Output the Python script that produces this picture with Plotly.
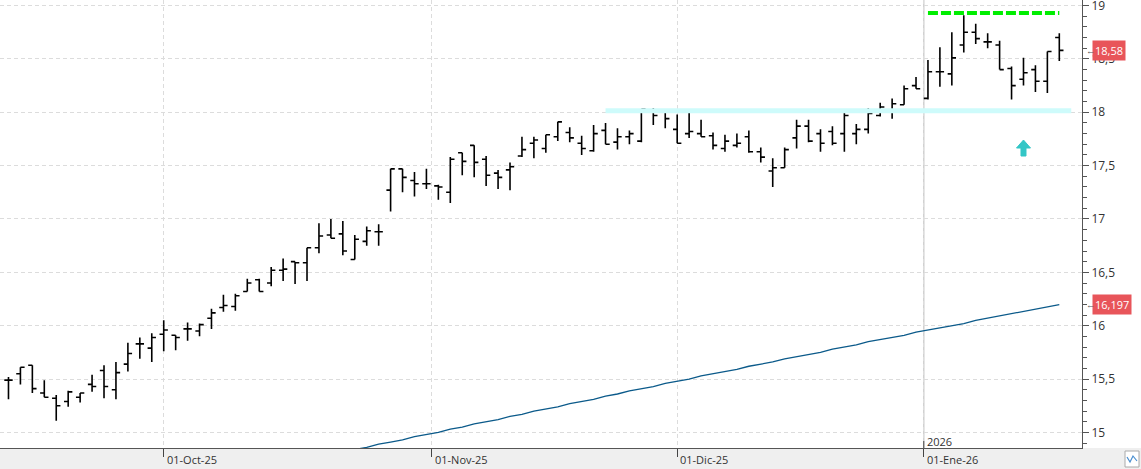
import plotly.graph_objects as go

# ---------------- data ----------------
bar_index = list(range(89))
opens = [15.49, 15.55, 15.63, 15.37, 15.32, 15.29, 15.33, 15.45, 15.58, 15.40,
         15.64, 15.83, 15.79, 15.92, 15.91, 15.97, 15.95, 16.07, 16.17, 16.18,
         16.32, 16.43, 16.40, 16.52, 16.60, 16.59, 16.73, 16.85, 16.86, 16.62,
         16.79, 16.88, 17.27, 17.47, 17.36, 17.33, 17.31, 17.25, 17.62, 17.69,
         17.56, 17.43, 17.46, 17.59, 17.71, 17.66, 17.77, 17.81, 17.71, 17.64,
         17.83, 17.72, 17.77, 17.73, 18.02, 18.01, 17.84, 17.80, 17.80, 17.78,
         17.66, 17.69, 17.77, 17.63, 17.45, 17.48, 17.76, 17.87, 17.80, 17.82,
         17.80, 17.80, 17.84, 17.97, 18.00, 18.07, 18.25, 18.13, 18.38, 18.36,
         18.63, 18.75, 18.66, 18.63, 18.41, 18.31, 18.40, 18.29, 18.70]
highs = [15.52, 15.61, 15.63, 15.49, 15.35, 15.39, 15.37, 15.54, 15.63, 15.66,
         15.84, 15.89, 15.93, 16.05, 15.91, 16.03, 16.02, 16.16, 16.29, 16.30,
         16.44, 16.44, 16.55, 16.63, 16.60, 16.73, 16.96, 17.00, 16.98, 16.85,
         16.93, 16.95, 17.47, 17.47, 17.44, 17.47, 17.32, 17.58, 17.62, 17.69,
         17.59, 17.46, 17.53, 17.77, 17.77, 17.79, 17.91, 17.86, 17.78, 17.88,
         17.90, 17.85, 17.83, 18.03, 18.04, 18.01, 17.98, 18.00, 17.93, 17.81,
         17.79, 17.80, 17.83, 17.67, 17.57, 17.67, 17.93, 17.93, 17.84, 17.87,
         18.00, 17.89, 18.04, 18.09, 18.13, 18.25, 18.33, 18.49, 18.61, 18.75,
         18.91, 18.83, 18.74, 18.67, 18.43, 18.51, 18.44, 18.57, 18.74]
lows = [15.31, 15.45, 15.37, 15.33, 15.11, 15.24, 15.28, 15.38, 15.32, 15.31,
        15.57, 15.69, 15.66, 15.76, 15.77, 15.86, 15.90, 15.97, 16.13, 16.14,
        16.32, 16.32, 16.37, 16.42, 16.39, 16.42, 16.68, 16.82, 16.66, 16.62,
        16.75, 16.75, 17.07, 17.25, 17.21, 17.28, 17.18, 17.15, 17.41, 17.39,
        17.31, 17.28, 17.27, 17.58, 17.57, 17.62, 17.73, 17.72, 17.60, 17.63,
        17.70, 17.65, 17.70, 17.72, 17.88, 17.85, 17.71, 17.76, 17.77, 17.65,
        17.63, 17.67, 17.62, 17.53, 17.30, 17.48, 17.66, 17.72, 17.63, 17.69,
        17.63, 17.70, 17.80, 17.96, 17.94, 18.07, 18.22, 18.12, 18.24, 18.25,
        18.56, 18.64, 18.60, 18.40, 18.12, 18.25, 18.19, 18.18, 18.48]
closes = [15.49, 15.61, 15.41, 15.33, 15.25, 15.38, 15.37, 15.43, 15.43, 15.56,
          15.74, 15.83, 15.89, 15.96, 15.89, 15.97, 16.01, 16.12, 16.19, 16.28,
          16.40, 16.32, 16.52, 16.53, 16.59, 16.73, 16.84, 16.82, 16.70, 16.81,
          16.89, 16.88, 17.47, 17.39, 17.33, 17.33, 17.30, 17.56, 17.54, 17.53,
          17.41, 17.39, 17.49, 17.65, 17.74, 17.79, 17.91, 17.76, 17.66, 17.80,
          17.70, 17.77, 17.80, 18.03, 17.97, 17.94, 17.71, 17.82, 17.77, 17.69,
          17.73, 17.71, 17.63, 17.58, 17.48, 17.65, 17.87, 17.73, 17.71, 17.71,
          17.97, 17.84, 17.99, 18.05, 18.08, 18.22, 18.22, 18.38, 18.38, 18.51,
          18.75, 18.69, 18.66, 18.40, 18.25, 18.37, 18.29, 18.57, 18.58]

ma_index = list(range(28, 89))
ma_values = [14.81, 14.84, 14.86, 14.89, 14.91, 14.93, 14.96, 14.98, 15.00, 15.03,
             15.05, 15.08, 15.10, 15.12, 15.15, 15.17, 15.20, 15.22, 15.24, 15.27,
             15.29, 15.31, 15.34, 15.36, 15.39, 15.41, 15.43, 15.46, 15.48, 15.50,
             15.53, 15.55, 15.57, 15.59, 15.62, 15.64, 15.66, 15.69, 15.71, 15.73,
             15.75, 15.78, 15.80, 15.82, 15.85, 15.87, 15.89, 15.91, 15.94, 15.96,
             15.98, 16.00, 16.02, 16.05, 16.07, 16.09, 16.11, 16.13, 16.15, 16.17,
             16.197]

support_level = 18.015
support_span = [50, 89]
resistance_level = 18.93
resistance_span = [77, 88]
arrow_index = 85
arrow_tip = 17.74

last_price = 18.58
last_price_text = "18,58"
ma_last = 16.197
ma_last_text = "16,197"

month_ticks = [13, 35.45, 56]
month_labels = ["01-Oct-25", "01-Nov-25", "01-Dic-25"]
year_tick = 76.65
year_tick_label = "01-Ene-26"
year_label = "2026"

y_ticks = [15, 15.5, 16, 16.5, 17, 17.5, 18, 18.5, 19]
y_tick_text = ["15", "15,5", "16", "16,5", "17", "17,5", "18", "18,5", "19"]

# ---------------- layout geometry ----------------
W, H = 1141, 469
PLOT_W, PLOT_H = 1082, 448
FONT = "Open Sans"

def px_x(p):
    return p / PLOT_W

def px_y(p):
    return (PLOT_H - p) / PLOT_H

fig = go.Figure()

# support band (cyan)
fig.add_trace(go.Scatter(
    x=support_span, y=[support_level, support_level], mode="lines",
    line=dict(color="#cefbfb", width=5), hoverinfo="skip", showlegend=False))

# moving average
fig.add_trace(go.Scatter(
    x=ma_index, y=ma_values, mode="lines",
    line=dict(color="#0b5a8a", width=1.3), hoverinfo="skip", showlegend=False))

# resistance dashed green
fig.add_trace(go.Scatter(
    x=resistance_span, y=[resistance_level, resistance_level], mode="lines",
    line=dict(color="#00ee00", width=4, dash="10px,3px"),
    hoverinfo="skip", showlegend=False))

# OHLC bars
fig.add_trace(go.Ohlc(
    x=bar_index, open=opens, high=highs, low=lows, close=closes,
    increasing=dict(line=dict(color="#000000", width=1.6)),
    decreasing=dict(line=dict(color="#000000", width=1.6)),
    tickwidth=0.35, showlegend=False, hoverinfo="skip"))

shapes = []
# bottom band
shapes.append(dict(type="rect", xref="paper", yref="paper",
                   x0=0, x1=px_x(W), y0=px_y(H), y1=0,
                   fillcolor="#efefef", line=dict(width=0), layer="below"))
# year separator line
shapes.append(dict(type="line", xref="x", yref="paper", x0=year_tick, x1=year_tick,
                   y0=0, y1=1, line=dict(color="#d0d0d0", width=1.5), layer="below"))
# small tick inside for year
shapes.append(dict(type="line", xref="x", yref="paper", x0=year_tick, x1=year_tick,
                   y0=0, y1=px_y(441), line=dict(color="#444", width=1)))
# icon box
shapes.append(dict(type="rect", xref="paper", yref="paper",
                   x0=px_x(1125), x1=px_x(1139), y0=px_y(467), y1=px_y(451),
                   fillcolor="#ffffff", line=dict(color="#aaaaaa", width=1)))
shapes.append(dict(type="path", xref="paper", yref="paper",
                   path=f"M {px_x(1127)},{px_y(457)} L {px_x(1130)},{px_y(462)} "
                        f"L {px_x(1133)},{px_y(456)} L {px_x(1137)},{px_y(461)}",
                   line=dict(color="#4a8fd0", width=1.2)))
# cyan up arrow (pixel-sized, anchored at its tip)
shapes.append(dict(type="path", xref="x", yref="y",
                   xsizemode="pixel", ysizemode="pixel",
                   xanchor=arrow_index, yanchor=arrow_tip,
                   path="M 0,0 L 7,-8 L 2.5,-8 L 2.5,-16 L -2.5,-16 L -2.5,-8 L -7,-8 Z",
                   fillcolor="#33c6c6", line=dict(color="#33c6c6", width=1)))

annotations = []
for t, lab in zip(month_ticks + [year_tick], month_labels + [year_tick_label]):
    annotations.append(dict(x=t, xref="x", y=px_y(460), yref="paper",
                            text=lab, showarrow=False, xanchor="left", yanchor="middle",
                            xshift=1, font=dict(family=FONT, size=11, color="#333")))
annotations.append(dict(x=year_tick, xref="x", y=px_y(441), yref="paper",
                        text=year_label, showarrow=False, xanchor="left", yanchor="middle",
                        xshift=1, font=dict(family=FONT, size=11, color="#333")))
# price labels
for val, txt in [(last_price, last_price_text), (ma_last, ma_last_text)]:
    annotations.append(dict(x=px_x(1092), xref="paper", y=val, yref="y",
                            text=txt, showarrow=False, xanchor="left", yanchor="middle",
                            bgcolor="#e8555a", borderpad=2,
                            font=dict(family=FONT, size=11, color="#ffffff")))
    annotations.append(dict(x=px_x(1084), xref="paper", y=val, yref="y",
                            text="←", showarrow=False, xanchor="left", yanchor="middle",
                            font=dict(family=FONT, size=9, color="#555")))

fig.update_layout(
    width=W, height=H,
    margin=dict(l=0, r=W - PLOT_W, t=0, b=H - PLOT_H, autoexpand=False),
    paper_bgcolor="#ffffff", plot_bgcolor="#ffffff",
    separators=",.",
    font=dict(family=FONT, size=11, color="#333"),
    shapes=shapes, annotations=annotations,
    showlegend=False,
    xaxis=dict(range=[-0.71, 89.9], rangeslider=dict(visible=False),
               tickvals=month_ticks + [year_tick], showticklabels=False,
               ticks="outside", ticklen=8, tickcolor="#444",
               showgrid=True, gridcolor="#dcdcdc", griddash="4px,3px", gridwidth=1,
               showline=True, linecolor="#555", linewidth=1,
               zeroline=False, fixedrange=True, automargin=False),
    yaxis=dict(range=[14.854, 19.052], side="right",
               tickvals=y_ticks, ticktext=y_tick_text,
               ticklabeloverflow="allow", automargin=False,
               ticks="outside", ticklen=6, tickcolor="#555",
               tickfont=dict(family=FONT, size=12, color="#333"),
               showgrid=True, gridcolor="#dcdcdc", griddash="4px,3px", gridwidth=1,
               showline=True, linecolor="#555", linewidth=1,
               minor=dict(dtick=0.1, ticks="outside", ticklen=4, tickcolor="#555",
                          showgrid=False),
               zeroline=False, fixedrange=True),
)

fig.write_html("out.html", config={"displayModeBar": False})
